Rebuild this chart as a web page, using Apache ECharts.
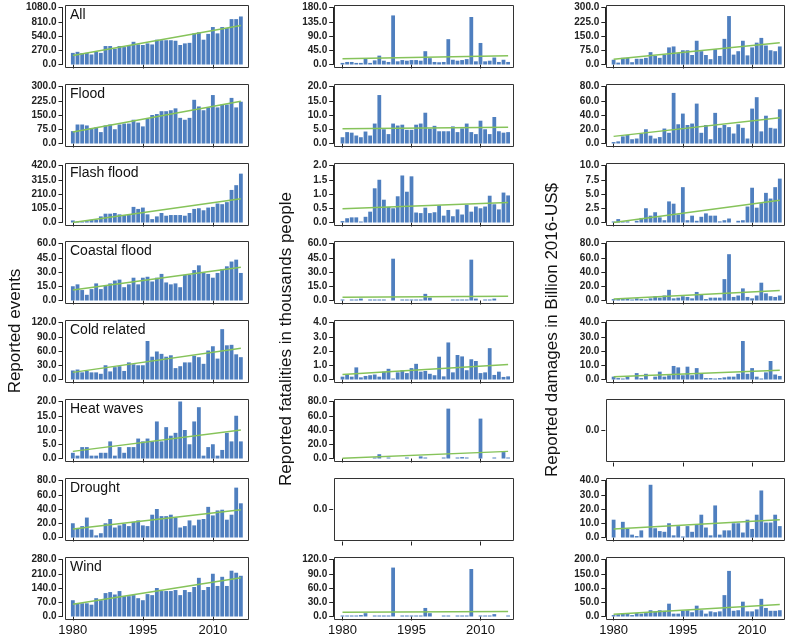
<!DOCTYPE html>
<html><head><meta charset="utf-8">
<script src="https://cdn.jsdelivr.net/npm/echarts@6/dist/echarts.min.js"></script>
<style>html,body{margin:0;padding:0;background:#fff}#c{width:791px;height:640px}</style>
</head><body><div id="c"></div>
<script>
const years = ['1980','1981','1982','1983','1984','1985','1986','1987','1988','1989','1990','1991','1992','1993','1994','1995','1996','1997','1998','1999','2000','2001','2002','2003','2004','2005','2006','2007','2008','2009','2010','2011','2012','2013','2014','2015','2016'];
const tickYears = ['1980','1995','2010'];
const hazards = ['All','Flood','Flash flood','Coastal flood','Cold related','Heat waves','Drought','Wind'];
const columnTitles = ['Reported events','Reported fatalities in thousands people','Reported damages in Billion 2016-US$'];

// Reported events
const evAll = [220,240,215,220,190,240,220,350,350,300,350,330,350,430,380,370,400,380,470,460,460,460,450,370,400,410,590,610,470,580,710,590,710,690,860,860,910];
const evFlood = [65,100,100,95,80,85,60,95,100,75,100,105,105,125,110,90,130,150,155,170,170,175,185,135,125,135,230,195,175,190,255,190,205,205,240,190,220];
const evFlash = [15,2,5,10,20,20,45,65,65,70,60,55,55,115,100,110,60,25,45,70,50,55,55,55,50,70,100,105,90,110,115,140,135,150,240,275,360];
const evCoastal = [15,17,11,6,12,18,12,16,18,21,22,14,17,24,17,24,25,20,24,28,19,17,18,14,27,27,32,37,29,28,24,29,33,36,41,43,29];
const evCold = [19,21,15,18,15,15,12,30,17,26,28,18,36,32,30,30,81,48,59,54,48,51,24,28,36,36,50,47,33,61,70,44,106,72,73,53,47];
const evHeat = [2,1,4,4,1,1,2,2,6,1,4,2,4,4,7,6,7,6,13,6,11,8,9,21,10,5,13,18,1,4,5,1,3,9,6,15,6];
const evDrought = [20,13,16,28,11,3,6,20,26,14,17,19,16,22,24,17,16,32,40,30,30,32,28,14,16,24,17,25,26,43,31,38,39,25,32,70,48];
const evWind = [80,65,65,65,58,90,80,115,120,108,125,100,100,105,90,80,110,105,140,125,125,125,130,105,130,120,145,190,130,145,210,150,195,150,225,215,200];

// Reported fatalities (thousands)
const faAll = [5,8,8,5,5,18,5,13,28,12,8,155,10,14,12,14,14,12,42,20,8,7,8,80,15,12,14,17,150,10,68,10,12,22,8,15,8];
const faFlood = [2.2,4.0,3.8,2.8,2.2,4.2,2.8,7.0,17.0,5.0,3.3,7.0,6.3,6.6,4.8,4.8,6.6,7.0,10.8,5.2,6.2,4.3,4.3,4.3,6.0,4.0,5.3,7.0,4.0,3.3,8.0,5.0,3.3,9.3,4.3,3.8,4.0];
const faFlash = [0.05,0.15,0.18,0.18,0.02,0.2,0.38,1.2,1.5,0.8,0.55,0.5,0.92,1.65,1.08,1.62,0.35,0.33,0.52,0.33,0.36,0.6,0.24,0.44,0.22,0.46,0.28,0.62,0.38,0.56,0.5,0.56,0.94,0.64,0.46,1.05,0.95];
const faCoastal = [0,null,0,0.5,2,null,0,0,0,0,null,44,null,0,0,0,0,0,7,3,null,null,null,null,0,0,0,0.5,43,2,null,0,0,2,null,null,null];
const faCold = [0.2,0.35,0.2,0.85,0.15,0.25,0.3,0.35,0.2,0.55,0.75,0.05,0.5,0.65,0.45,0.8,1.1,0.55,0.6,0.4,0.3,1.6,0.22,2.6,0.5,1.72,1.62,0.65,1.42,1.3,0.45,0.5,2.2,0.32,0.55,0.18,0.22];
const faHeat = [null,null,null,null,null,null,null,0.3,6,null,1,null,null,null,0.5,null,null,3,1,null,null,null,0.5,70,null,1,2,1,null,null,56,null,null,1,null,9,1];
const faDrought = null;
const faWind = [0,0,0,0,3,7,null,0,0,0,0,103,null,0,0,0,0,0,18,7,null,null,0,0,null,0,0,0,100,null,0,0,0,5,null,null,0];

// Reported damages (billion 2016 US$)
const dmAll = [25,10,35,35,12,30,30,35,65,45,35,50,90,95,60,75,75,50,125,70,50,28,80,45,135,255,52,70,125,48,90,115,140,100,75,70,95];
const dmFlood = [2,3,10,12,6,7,14,20,11,7,9,21,15,71,27,42,26,28,56,15,26,6,43,22,26,23,14,27,22,7,49,65,17,39,22,21,48];
const dmFlash = [0.15,0.6,0.15,0.2,null,0.3,0.8,2.5,1.2,1.8,0.9,0.4,3.7,3.3,1.4,6.2,0.4,1.2,0.3,1.0,1.6,1.2,1.2,0.2,0.4,0.7,null,0.3,0.4,2.8,6.1,2.6,3.4,5.2,4.2,6.2,7.7];
const dmCoastal = [2,2,2,3,1,3,2,1,3,6,4,7,15,3,4,6,5,3,12,8,2,4,4,4,30,65,5,7,17,5,3,7,25,10,6,5,7];
const dmCold = [2,1,0.5,2,null,4.5,1,4,null,2,5.5,2,3,9.5,8.5,3,9,3,8,4,1,1,0.5,1,1.5,2,2,4,27,4,8,2,0.5,5,13,3.5,2.5];
const dmHeat = null;
const dmDrought = [12.5,null,11,6,2,1,5,null,37,6.5,4.5,4,10,1.5,8,0.5,8,4,9,16,7,1.5,22.5,2,5,5,10,10,3.5,12.5,6,16,33,10.5,10.5,16,8];
const dmWind = [5,8,10,12,5,12,10,12,22,18,22,20,45,10,10,20,22,15,38,22,10,18,15,18,75,160,20,22,52,18,18,25,62,30,20,20,22];

// Axis maxima (top tick)
const evMax = [1080,300,420,60,120,20,80,280];
const faMax = [180,20,2,60,4,80,null,120];
const dmMax = [300,80,10,80,40,null,40,200];

// Trend line end values (start 1980, end 2016)
const evTrend = [[170,740],[60,222],[0,175],[11,35],[15,66],[2.5,10],[12,39],[60,190]];
const faTrend = [[18,28],[5.2,5.7],[0.48,0.7],[3.5,4.5],[0.35,1.05],[0.5,10],null,[9,10.5]];
const dmTrend = [[28,115],[10,36],[0,3.9],[2,14],[2,6.5],null,[6,12.5],[8,42]];

const columns = [
  {data:[evAll,evFlood,evFlash,evCoastal,evCold,evHeat,evDrought,evWind], max:evMax, trend:evTrend},
  {data:[faAll,faFlood,faFlash,faCoastal,faCold,faHeat,faDrought,faWind], max:faMax, trend:faTrend},
  {data:[dmAll,dmFlood,dmFlash,dmCoastal,dmCold,dmHeat,dmDrought,dmWind], max:dmMax, trend:dmTrend}
];

// ---- layout (pixels) ----
const FONT = 'Liberation Sans, Arial, sans-serif';
const BAR = '#4f7fbf';
const TREND = '#86c35a';
const colLayout = [
  {gridLeft:70.5, gridWidth:172.7, boxLeft:65, boxRight:248, axisOff:8, titleX:15, titleY:331},
  {gridLeft:340.2, gridWidth:170.2, boxLeft:334, boxRight:513, axisOff:7, titleX:286, titleY:339},
  {gridLeft:611.3, gridWidth:170.8, boxLeft:606, boxRight:784, axisOff:6, titleX:552, titleY:330}
];
const rowPitch = 78.8, firstBoxTop = 5, boxH = 62, padY = 2.5;

const grids=[], xAxes=[], yAxes=[], series=[], graphics=[];
const isTick = (i, v) => tickYears.indexOf(v) >= 0;

columns.forEach((col, c) => {
  const L = colLayout[c];
  for (let r = 0; r < 8; r++) {
    const idx = grids.length;
    const boxTop = Math.round(firstBoxTop + rowPitch * r);
    const gTop = boxTop + padY, gH = boxH - 2 * padY;
    grids.push({left:L.gridLeft, top:gTop, width:L.gridWidth, height:gH, show:false});
    xAxes.push({
      type:'category', gridIndex:idx, data:years, boundaryGap:true, offset:4,
      axisLine:{show:false},
      axisTick:{show:true, alignWithLabel:true, interval:isTick, length:4, lineStyle:{color:'#222', width:1}},
      axisLabel:{show:r===7, interval:isTick, fontSize:13, color:'#111', fontFamily:FONT, margin:3}
    });
    const vals = col.data[r];
    const ymax = col.max[r];
    if (vals) {
      yAxes.push({
        type:'value', gridIndex:idx, min:0, max:ymax, interval:ymax/4, offset:L.axisOff,
        axisLine:{show:true, lineStyle:{color:'#222', width:1}},
        axisTick:{show:true, length:4, lineStyle:{color:'#222', width:1}},
        splitLine:{show:false},
        axisLabel:{formatter:v => v.toFixed(1), fontSize:10, fontWeight:'bold', color:'#222', fontFamily:FONT, margin:6}
      });
      series.push({
        type:'bar', xAxisIndex:idx, yAxisIndex:idx, data:vals, barCategoryGap:'18%',
        barMinHeight:1, itemStyle:{color:BAR}, silent:true, animation:false
      });
      const t = col.trend[r];
      series.push({
        type:'line', xAxisIndex:idx, yAxisIndex:idx,
        data:[[years[0], t[0]], [years[years.length-1], t[1]]],
        symbol:'none', lineStyle:{color:TREND, width:1.5}, silent:true, animation:false, z:5
      });
    } else {
      yAxes.push({
        type:'category', gridIndex:idx, data:['', '0.0', ''], boundaryGap:false, offset:L.axisOff,
        axisLine:{show:false},
        axisTick:{show:true, length:4, interval:(i) => i === 1, lineStyle:{color:'#222'}},
        axisLabel:{interval:(i) => i === 1, fontSize:10, fontWeight:'bold', color:'#222', fontFamily:FONT, margin:6},
        splitLine:{show:false}
      });
    }
    graphics.push({
      type:'rect', silent:true, z:10,
      shape:{x:L.boxLeft + 0.5, y:boxTop + 0.5, width:L.boxRight - L.boxLeft, height:boxH},
      style:{fill:'none', stroke:'#333', lineWidth:1}
    });
    if (c === 0) {
      graphics.push({
        type:'text', silent:true, z:11, left:L.boxLeft + 5, top:boxTop + 3,
        style:{text:hazards[r], fontSize:14, fill:'#111', fontFamily:FONT}
      });
    }
  }
  graphics.push({
    type:'text', silent:true, z:11, x:L.titleX, y:L.titleY, rotation:Math.PI/2,
    style:{text:columnTitles[c], fontSize:17, fill:'#111', fontFamily:FONT, textAlign:'center', textVerticalAlign:'middle'}
  });
});

const chart = echarts.init(document.getElementById('c'), null, {renderer:'canvas'});
chart.setOption({
  animation:false,
  backgroundColor:'#fff',
  grid:grids, xAxis:xAxes, yAxis:yAxes, series:series, graphic:graphics
});
</script>
</body></html>
